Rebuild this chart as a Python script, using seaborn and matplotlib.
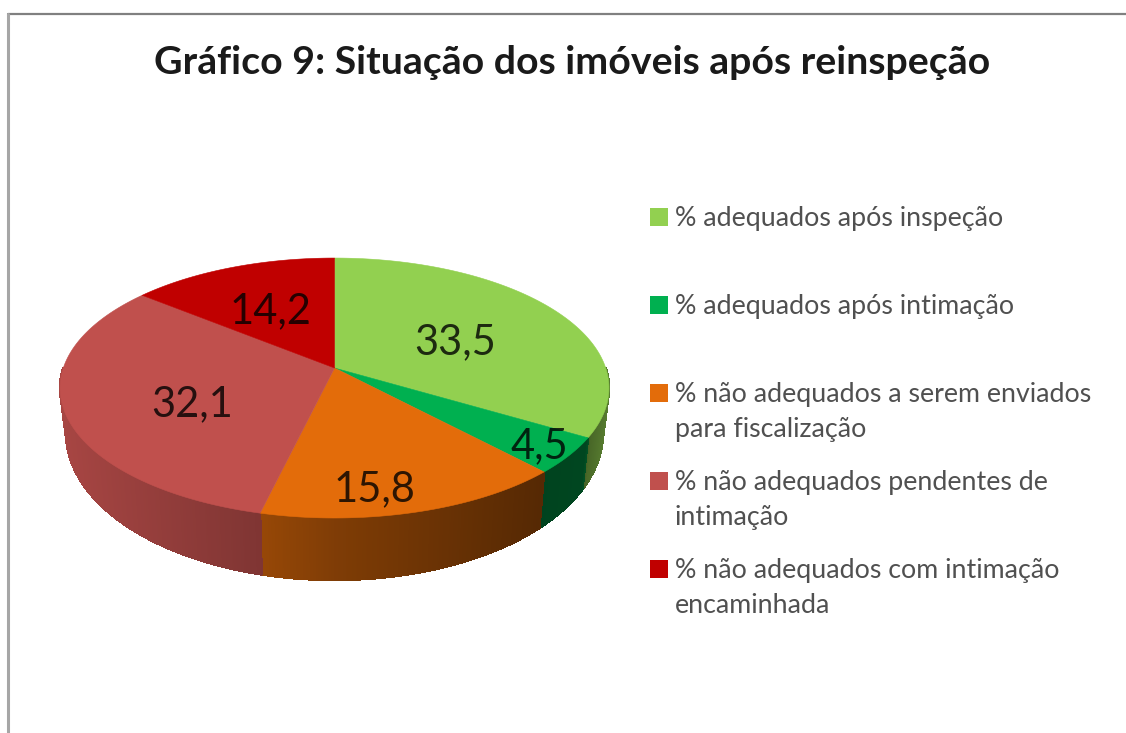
import numpy as np
import matplotlib.pyplot as plt
import seaborn as sns

titulo = "Gráfico 9: Situação dos imóveis após reinspeção"
categorias = [
    "% adequados após inspeção",
    "% adequados após intimação",
    "% não adequados a serem enviados\npara fiscalização",
    "% não adequados pendentes de\nintimação",
    "% não adequados com intimação\nencaminhada",
]
valores = [33.5, 4.5, 15.8, 32.1, 14.2]
cores = ["#92D050", "#00B050", "#E36C0A", "#C0504D", "#C00000"]

sns.set_theme(style="white")
plt.rcParams['font.family'] = ['Lato', 'DejaVu Sans']

W, H = 1126, 733
fig = plt.figure(figsize=(W / 100, H / 100), dpi=100)
ax = fig.add_axes([0, 0, 1, 1])
ax.set_xlim(0, W)
ax.set_ylim(H, 0)
ax.axis("off")

# pie geometry, pixels
cx, cy = 334.5, 368
a, b, k = 271.2, 126.9, 0.154
meio_y = 388


def proj(ang, r=1.0):
    # disc -> screen with a bit of perspective, ang clockwise from top
    x = r * np.sin(ang)
    y = r * np.cos(ang)
    w = 1 + k * y
    return cx + a * x / w, cy - b * y / w


def base(px, py):
    dy = 45 + 17 * (py - meio_y) / 130
    return cx + 0.978 * (px - cx), py + dy


def shade(px):
    return np.interp(px, [60, 262, 334, 540, 585, 590, 609],
                     [0.87, 0.66, 0.56, 0.38, 0.40, 0.50, 0.60])


total = sum(valores)
limites = np.cumsum([0] + valores) / total * 2 * np.pi
rgbs = sns.color_palette(cores)

# side wall, thin strips so the shade can change along x
for i, rgb in enumerate(rgbs):
    n = max(int(valores[i] * 12), 2)
    angs = np.linspace(limites[i], limites[i + 1], n + 1)
    for a0, a1 in zip(angs[:-1], angs[1:]):
        if np.cos((a0 + a1) / 2) > 0.0:
            continue
        x0, y0 = proj(a0)
        x1, y1 = proj(a1)
        bx0, by0 = base(x0, y0)
        bx1, by1 = base(x1, y1)
        c = np.array(rgb) * shade((x0 + x1) / 2)
        ax.fill([x0, x1, bx1, bx0], [y0, y1, by1, by0], color=c, lw=1.0, zorder=2, antialiased=False)

# top face
for i, cor in enumerate(cores):
    angs = np.linspace(limites[i], limites[i + 1], 120)
    xs, ys = proj(angs)
    ax.fill(np.r_[cx, xs], np.r_[cy, ys], color=cor, lw=0.4, zorder=3)

# value labels
rot_x = [455, 539, 374, 192, 270]
rot_y = [342, 446, 489, 404, 311]
for v, x, y in zip(valores, rot_x, rot_y):
    ax.text(x, y, f"{v:.1f}".replace(".", ","), fontsize=30, color="black", alpha=0.8,
            ha="center", va="center", zorder=4)

# legend, written by hand because the rows keep one fixed step
for i, (cat, cor) in enumerate(zip(categorias, cores)):
    y = 217 + 88 * i
    ax.scatter([659], [y], marker="s", s=150, color=cor, lw=0, zorder=4)
    ax.text(675, y - 11, cat, fontsize=19.3, color="#505050", va="top", ha="left",
            linespacing=1.5, zorder=4)

ax.text(572, 63, titulo, fontsize=28.3, fontweight="bold", color="#1a1a1a",
        ha="center", va="center")

# chart frame, only top and left reach the crop
ax.plot([8, W], [14, 14], color="#808080", lw=1.6)
ax.plot([8, 8], [14, H], color="#a6a6a6", lw=2.2)

fig.savefig("out.png", dpi=100)
